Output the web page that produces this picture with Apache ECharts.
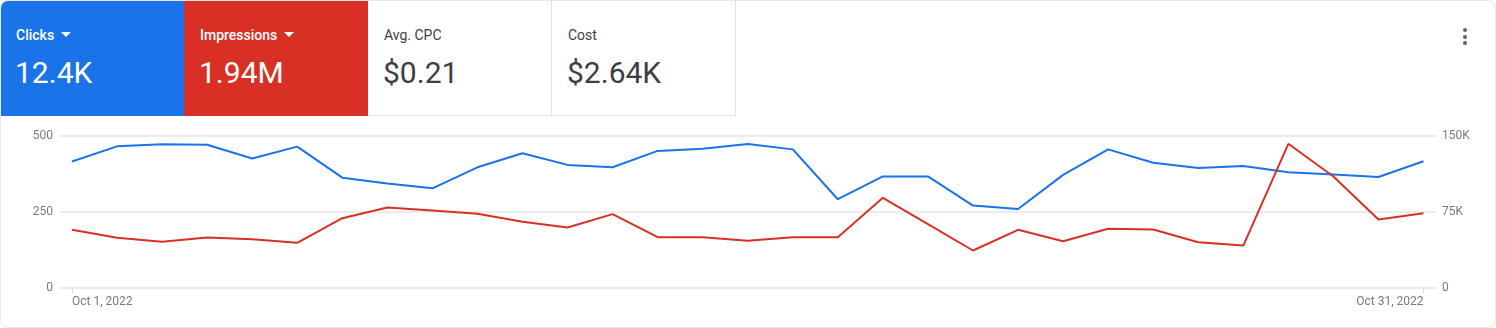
<!DOCTYPE html>
<html>
<head>
<meta charset="utf-8">
<script src="https://cdn.jsdelivr.net/npm/echarts@6/dist/echarts.min.js"></script>
<style>
  html, body { margin:0; padding:0; background:#fff; width:1496px; height:328px; overflow:hidden; font-family: Roboto, "Noto Sans", Arial, sans-serif; }
  #card { position:absolute; left:0; top:0; width:1494px; height:326px; border:1px solid #e8e8e8; border-radius:8px; overflow:hidden; box-sizing:content-box; }
  #chart { position:absolute; left:-1px; top:-1px; width:1496px; height:328px; }
  .tile { position:absolute; top:0; height:116px; width:184px; box-sizing:border-box; }
  .lbl { position:absolute; left:16px; top:26px; font-size:14px; line-height:18px; }
  .val { position:absolute; left:15px; top:55px; font-size:30px; line-height:36px; }
  .tri { display:inline-block; width:0; height:0; border-left:5px solid transparent; border-right:5px solid transparent; border-top:5px solid #fff; margin-left:7px; vertical-align:3px; }
  .dots { position:absolute; left:1462px; top:27px; }
  .dots div { width:4px; height:4px; border-radius:2px; background:#5f6368; margin-bottom:2.5px; }
</style>
</head>
<body>
<div id="card">
  <div id="chart"></div>
  <div class="tile" style="left:-1px;top:-1px;background:#1a73e8;color:#fff;">
    <div class="lbl" style="font-weight:500;">Clicks<span class="tri"></span></div>
    <div class="val">12.4K</div>
  </div>
  <div class="tile" style="left:183px;top:-1px;background:#d93025;color:#fff;">
    <div class="lbl" style="font-weight:500;">Impressions<span class="tri"></span></div>
    <div class="val">1.94M</div>
  </div>
  <div class="tile" style="left:367px;top:-1px;background:#fff;color:#3c4043;border-right:1px solid #e3e3e3;border-bottom:1px solid #e3e3e3;">
    <div class="lbl">Avg. CPC</div>
    <div class="val">$0.21</div>
  </div>
  <div class="tile" style="left:551px;top:-1px;background:#fff;color:#3c4043;border-right:1px solid #e3e3e3;border-bottom:1px solid #e3e3e3;">
    <div class="lbl">Cost</div>
    <div class="val">$2.64K</div>
  </div>
  <div class="dots"><div></div><div></div><div></div></div>
</div>
<script>
const dates = [];
for (let d = 1; d <= 31; d++) dates.push('Oct ' + d + ', 2022');

const clicks = [416, 466, 473, 471, 426, 465, 363, 344, 328, 397,
                443, 405, 397, 451, 458, 474, 456, 292, 367, 367,
                271, 260, 372, 456, 412, 395, 401, 381, 373, 365, 417];

const impressions = [57400, 49500, 45600, 49800, 48200, 44600, 68900, 79400, 76500, 73200,
                     65300, 59700, 72900, 50100, 50100, 46600, 50100, 50100, 89000, 63000,
                     37000, 57400, 46200, 58400, 57700, 45200, 41900, 142300, 110000, 67600, 73800];

const leftTicks = { min: 0, max: 500, interval: 250 };
const rightTicks = { min: 0, max: 150000, interval: 75000 };

const chart = echarts.init(document.getElementById('chart'), null, { renderer: 'canvas' });
const gridColor = '#e6e6e6';
const labelColor = '#7a7a7a';
const showEnds = (i) => i === 0 || i === dates.length - 1;

chart.setOption({
  animation: false,
  grid: [
    { left: 60, right: 60, top: 136, bottom: 40 },
    { left: 72, right: 72.5, top: 136, bottom: 40 }
  ],
  xAxis: [
    { gridIndex: 0, type: 'value', min: 0, max: 1, show: false },
    {
      gridIndex: 1, type: 'category', boundaryGap: false, data: dates,
      axisLine: { show: false },
      axisTick: { show: true, interval: (i) => showEnds(i), length: 5, lineStyle: { color: '#d6d6d6' } },
      axisLabel: {
        interval: (i) => showEnds(i), color: labelColor, fontSize: 12, fontFamily: 'Roboto',
        margin: 8, alignMinLabel: 'left', alignMaxLabel: 'right'
      },
      splitLine: { show: false }
    }
  ],
  yAxis: [
    {
      gridIndex: 0, type: 'value', position: 'left', ...leftTicks,
      axisLine: { show: false }, axisTick: { show: false },
      axisLabel: { color: labelColor, fontSize: 12, fontFamily: 'Roboto', margin: 7 },
      splitLine: { show: true, lineStyle: { color: gridColor, width: 1.5 } }
    },
    {
      gridIndex: 0, type: 'value', position: 'right', ...rightTicks,
      axisLine: { show: false }, axisTick: { show: false },
      axisLabel: { color: labelColor, fontSize: 12, fontFamily: 'Roboto', margin: 6,
        formatter: (v) => v === 0 ? '0' : (v / 1000) + 'K' },
      splitLine: { show: false }
    },
    { gridIndex: 1, type: 'value', ...leftTicks, show: false, splitLine: { show: false } },
    { gridIndex: 1, type: 'value', ...rightTicks, show: false, splitLine: { show: false } }
  ],
  series: [
    {
      name: 'Clicks', type: 'line', xAxisIndex: 1, yAxisIndex: 2, data: clicks,
      showSymbol: false, symbol: 'none', lineStyle: { color: '#1a73e8', width: 2 }, itemStyle: { color: '#1a73e8' }
    },
    {
      name: 'Impressions', type: 'line', xAxisIndex: 1, yAxisIndex: 3, data: impressions,
      showSymbol: false, symbol: 'none', lineStyle: { color: '#d93025', width: 2 }, itemStyle: { color: '#d93025' }
    }
  ]
});
</script>
</body>
</html>
